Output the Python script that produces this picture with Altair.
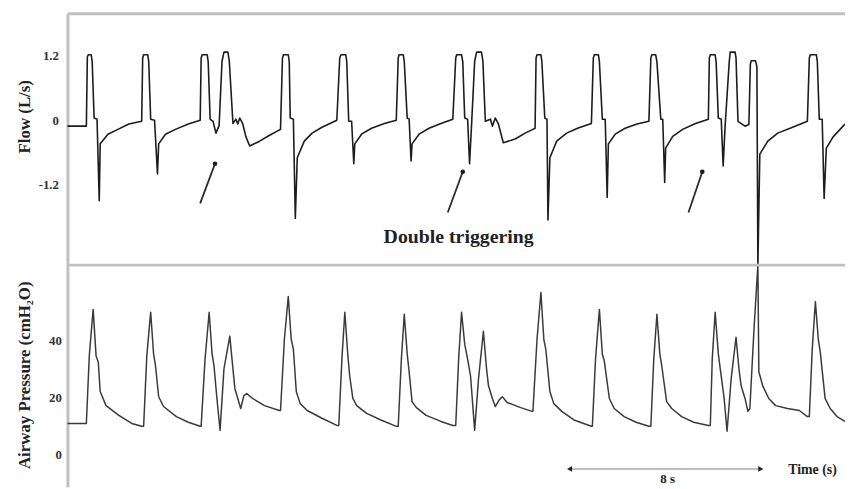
import altair as alt
import pandas as pd

# ---------------- data ----------------
# Flow trace (time in s, flow in L/s)
FLOW_T = [0, 0.78, 0.82, 0.86, 0.98, 1.02, 1.10, 1.22, 1.31, 1.35, 1.67, 2.08, 2.53, 3.06,
          3.10, 3.14, 3.31, 3.35, 3.43, 3.59, 3.71, 3.76, 4.04, 4.45, 4.98, 5.47,
          5.51, 5.55, 5.76, 5.80, 5.88, 6.00, 6.12, 6.25, 6.37, 6.45, 6.61, 6.67, 6.82, 6.94,
          7.02, 7.10, 7.22, 7.35, 7.51, 7.92, 8.33, 8.78,
          8.86, 8.90, 9.10, 9.14, 9.18, 9.31, 9.39, 9.47, 9.76, 10.08, 10.49, 11.10,
          11.22, 11.27, 11.47, 11.51, 11.59, 11.71, 11.80, 11.84, 12.12, 12.53, 13.06, 13.55,
          13.63, 13.67, 13.84, 13.88, 14.00, 14.08, 14.16, 14.20, 14.49, 14.90, 15.39, 15.88,
          16.00, 16.04, 16.24, 16.29, 16.37, 16.49, 16.57, 16.65, 16.78, 16.86, 17.06, 17.12,
          17.22, 17.43, 17.51, 17.63, 17.76, 17.96, 18.45, 18.86, 19.18, 19.27,
          19.31, 19.35, 19.51, 19.55, 19.67, 19.76, 19.80, 19.88, 20.16, 20.57, 21.02, 21.59,
          21.67, 21.71, 21.88, 21.92, 22.04, 22.16, 22.24, 22.29, 22.57, 22.98, 23.47, 23.96,
          24.04, 24.08, 24.24, 24.29, 24.45, 24.53, 24.61, 24.65, 24.94, 25.35, 25.88, 26.41,
          26.45, 26.49, 26.69, 26.73, 26.82, 26.94, 27.02, 27.10, 27.27, 27.31, 27.51, 27.55,
          27.63, 27.92, 28.08, 28.14, 28.18, 28.35, 28.41, 28.45, 28.53, 28.86, 29.27, 29.88, 30.49,
          30.57, 30.61, 30.86, 30.90, 30.98, 31.10, 31.18, 31.27, 31.55, 32.04]
FLOW_V = [-0.11, -0.11, 1.18, 1.22, 1.22, 1.09, 0.04, 0.02, -1.50, -0.44, -0.26, -0.17, -0.07, -0.02,
          1.16, 1.22, 1.22, 1.09, 0.02, 0.0, -1.00, -0.44, -0.26, -0.17, -0.07, 0.0,
          1.16, 1.22, 1.22, 1.09, 0.02, -0.02, -0.24, -0.10, 1.10, 1.27, 1.27, 1.10, -0.06, 0.02,
          -0.07, 0.04, -0.06, -0.30, -0.48, -0.39, -0.28, -0.17,
          1.16, 1.22, 1.22, 1.09, 0.04, 0.02, -1.83, -0.70, -0.39, -0.24, -0.13, 0.0,
          1.16, 1.22, 1.22, 1.09, -0.02, -0.02, -0.81, -0.44, -0.26, -0.15, -0.06, 0.0,
          1.16, 1.22, 1.22, 1.09, 0.04, 0.02, -0.76, -0.44, -0.26, -0.15, -0.06, 0.02,
          1.16, 1.22, 1.22, 1.09, 0.04, 0.02, -0.81, -0.11, 1.10, 1.27, 1.27, 1.10,
          -0.02, 0.02, -0.11, 0.04, -0.07, -0.42, -0.35, -0.24, -0.17, -0.15,
          1.16, 1.22, 1.22, 1.09, 0.04, 0.02, -1.86, -0.70, -0.39, -0.24, -0.15, -0.06,
          1.16, 1.22, 1.22, 1.09, 0.02, 0.02, -1.44, -0.44, -0.26, -0.15, -0.07, -0.02,
          1.16, 1.22, 1.22, 1.09, 0.02, 0.02, -1.16, -0.52, -0.30, -0.17, -0.06, 0.02,
          1.16, 1.22, 1.22, 1.09, 0.04, 0.02, -0.85, -0.11, 1.09, 1.27, 1.27, 1.16,
          -0.02, -0.11, -0.08, 1.05, 1.11, 1.11, 1.00, -2.70, -0.63, -0.39, -0.24, -0.13, -0.02,
          1.16, 1.22, 1.22, 1.09, 0.02, 0.02, -1.46, -0.52, -0.31, -0.07]

# Airway pressure trace (time in s, pressure in cmH2O)
PRES_T = [0, 0.78, 0.90, 1.06, 1.18, 1.27, 1.35, 1.59, 2.12, 2.65, 3.06,
          3.14, 3.27, 3.43, 3.55, 3.63, 3.76, 3.96, 4.49, 4.98, 5.47,
          5.51, 5.67, 5.84, 5.96, 6.04, 6.16, 6.29, 6.45, 6.69, 6.82, 6.90, 7.02, 7.14, 7.27,
          7.39, 7.63, 8.12, 8.73,
          8.78, 8.94, 9.10, 9.22, 9.31, 9.43, 9.59, 9.88, 10.49, 11.10,
          11.18, 11.31, 11.43, 11.55, 11.63, 11.76, 11.92, 12.33, 12.94, 13.55,
          13.63, 13.76, 13.88, 14.00, 14.08, 14.20, 14.37, 14.78, 15.39, 15.88,
          16.00, 16.12, 16.24, 16.37, 16.49, 16.61, 16.78, 16.94, 17.14, 17.27, 17.35, 17.51,
          17.63, 17.80, 17.92, 18.12, 18.65, 19.14,
          19.18, 19.35, 19.51, 19.63, 19.71, 19.88, 20.04, 20.37, 20.90, 21.59,
          21.63, 21.76, 21.92, 22.04, 22.12, 22.33, 22.53, 22.94, 23.43, 23.96,
          24.04, 24.16, 24.29, 24.41, 24.49, 24.69, 24.90, 25.31, 25.80, 26.41,
          26.49, 26.57, 26.69, 26.82, 26.90, 27.06, 27.18, 27.35, 27.55, 27.67, 27.76, 27.92,
          28.04, 28.12, 28.29, 28.45, 28.49, 28.65, 28.90, 29.18, 29.67, 30.16, 30.49,
          30.57, 30.69, 30.82, 30.94, 31.02, 31.22, 31.43, 31.71, 32.04]
PRES_V = [11.0, 11.0, 34.5, 50.7, 34.5, 32.4, 22.1, 17.2, 13.8, 11.0, 10.0,
          10.0, 34.5, 49.7, 35.2, 31.0, 20.3, 16.9, 13.4, 11.4, 10.0,
          10.0, 33.4, 49.7, 35.2, 31.0, 19.7, 8.6, 30.0, 41.4, 30.0, 23.1, 19.7, 16.2, 20.7,
          21.4, 19.7, 17.2, 15.5,
          15.5, 40.3, 55.2, 40.3, 36.9, 22.1, 17.9, 15.5, 12.8, 10.3,
          10.3, 33.4, 49.7, 35.2, 27.6, 19.7, 17.2, 14.5, 12.1, 10.0,
          10.0, 33.4, 49.0, 35.2, 29.0, 18.6, 16.6, 13.8, 11.7, 10.3,
          10.3, 33.4, 49.7, 38.6, 33.4, 27.6, 8.6, 26.6, 43.1, 30.0, 24.1, 19.7,
          16.9, 19.3, 20.3, 18.3, 16.6, 15.2,
          15.2, 40.3, 56.6, 40.3, 36.9, 22.1, 17.9, 15.2, 12.1, 10.0,
          10.0, 33.4, 50.7, 35.2, 32.8, 19.7, 16.2, 13.4, 11.4, 10.0,
          10.0, 33.4, 49.0, 35.2, 31.0, 18.6, 16.2, 13.4, 11.4, 10.3,
          10.3, 33.4, 49.7, 35.2, 30.0, 19.7, 8.3, 26.6, 41.0, 30.0, 24.1, 19.7,
          15.2, 16.2, 43.8, 66.2, 29.0, 24.1, 19.7, 17.2, 16.2, 15.5, 13.4,
          13.4, 36.9, 53.4, 40.3, 35.9, 19.7, 16.2, 13.4, 11.7]

FLOW_TICKS = [-1.2, 0, 1.2]
PRES_TICKS = [0, 20, 40]

# "Double triggering" pointer arrows (flow panel coordinates)
ARROW_TAIL_T = [5.47, 15.67, 25.59]
ARROW_TAIL_V = [-1.55, -1.72, -1.72]
ARROW_HEAD_T = [6.08, 16.29, 26.16]
ARROW_HEAD_V = [-0.81, -0.96, -0.96]
NOTE_TEXT = ["Double triggering"]
NOTE_T = [16.12]
NOTE_V = [-2.18]

DIVIDER_V = [-2.70]          # flow value at the border between the two panels

# time scale bar (pressure panel coordinates)
SCALEBAR_T = [20.69, 28.57]
SCALEBAR_P = [-4.83]
SCALEBAR_LABEL = ["8 s"]
SCALEBAR_LABEL_T = [24.73]
SCALEBAR_LABEL_P = [-6.3]
TIME_LABEL = ["Time (s)"]
TIME_LABEL_T = [29.7]
TIME_LABEL_P = [-5.17]

X_DOMAIN = [0, 32.04]
FLOW_DOMAIN = [-6.83, 1.994]
PRES_DOMAIN = [-11.03, 153.8]

# ---------------- chart ----------------
SERIF = "Liberation Serif"
FRAME = "#c0c0c0"

flow_df = pd.DataFrame({"t": FLOW_T, "v": FLOW_V, "i": range(len(FLOW_T))})
pres_df = pd.DataFrame({"t": PRES_T, "p": PRES_V, "i": range(len(PRES_T))})
arrow_df = pd.DataFrame({"t0": ARROW_TAIL_T, "v0": ARROW_TAIL_V,
                         "t1": ARROW_HEAD_T, "v1": ARROW_HEAD_V})
note_df = pd.DataFrame({"t": NOTE_T, "v": NOTE_V, "label": NOTE_TEXT})
div_df = pd.DataFrame({"v": DIVIDER_V})
bar_df = pd.DataFrame({"t0": [SCALEBAR_T[0]], "t1": [SCALEBAR_T[1]], "p": SCALEBAR_P})
head_l = pd.DataFrame({"t": [SCALEBAR_T[0]], "p": SCALEBAR_P})
head_r = pd.DataFrame({"t": [SCALEBAR_T[1]], "p": SCALEBAR_P})
sl_df = pd.DataFrame({"t": SCALEBAR_LABEL_T, "p": SCALEBAR_LABEL_P, "label": SCALEBAR_LABEL})
tl_df = pd.DataFrame({"t": TIME_LABEL_T, "p": TIME_LABEL_P, "label": TIME_LABEL})

xs = alt.Scale(domain=X_DOMAIN, nice=False, zero=False)
fs = alt.Scale(domain=FLOW_DOMAIN, nice=False, zero=False)
ps = alt.Scale(domain=PRES_DOMAIN, nice=False, zero=False)

x_axis = alt.Axis(orient="top", labels=False, ticks=False, title=None, grid=False,
                  domainColor=FRAME, domainWidth=3)
flow_axis = alt.Axis(orient="left", values=FLOW_TICKS, ticks=False, grid=False,
                     labelExpr="datum.value == 0 ? '0' : (datum.value < 0 ? '-' + format(-datum.value, '.1f') : format(datum.value, '.1f'))",
                     labelPadding=9, labelFont=SERIF, labelFontWeight="bold",
                     labelFontSize=13, labelColor="#333333",
                     domainColor=FRAME, domainWidth=3,
                     title="Flow (L/s)", titleFont=SERIF, titleFontWeight="bold",
                     titleFontSize=17, titleColor="#222222", titleAngle=270,
                     titleBaseline="middle", titleAlign="center",
                     titleX=-43, titleY=104)
pres_axis = alt.Axis(orient="left", values=PRES_TICKS, ticks=False, grid=False,
                     labelPadding=6, labelFont=SERIF, labelFontWeight="bold",
                     labelFontSize=13, labelColor="#333333", domain=False,
                     title="Airway Pressure (cmH\u2082O)", titleFont=SERIF,
                     titleFontWeight="bold", titleFontSize=17, titleColor="#222222",
                     titleAngle=270, titleBaseline="middle", titleAlign="center",
                     titleX=-43, titleY=365)

flow_line = alt.Chart(flow_df).mark_line(color="#1c1c1c", strokeWidth=1.6,
                                         strokeJoin="round").encode(
    x=alt.X("t:Q", scale=xs, axis=x_axis),
    y=alt.Y("v:Q", scale=fs, axis=flow_axis),
    order="i:Q",
)
pres_line = alt.Chart(pres_df).mark_line(color="#3a3a3a", strokeWidth=1.5,
                                         strokeJoin="round").encode(
    x=alt.X("t:Q", scale=xs),
    y=alt.Y("p:Q", scale=ps, axis=pres_axis),
    order="i:Q",
)
divider = alt.Chart(div_df).mark_rule(color=FRAME, strokeWidth=3).encode(
    y=alt.Y("v:Q", scale=fs, axis=None),
)
arrows = alt.Chart(arrow_df).mark_rule(color="#2a2a2a", strokeWidth=1.8).encode(
    x=alt.X("t0:Q", scale=xs), x2="t1:Q",
    y=alt.Y("v0:Q", scale=fs, axis=None), y2="v1:Q",
)
arrow_dots = alt.Chart(arrow_df).mark_circle(color="#1c1c1c", size=22, opacity=1).encode(
    x=alt.X("t1:Q", scale=xs),
    y=alt.Y("v1:Q", scale=fs, axis=None),
)
note = alt.Chart(note_df).mark_text(font=SERIF, fontWeight="bold", fontSize=20,
                                    color="#222222").encode(
    x=alt.X("t:Q", scale=xs),
    y=alt.Y("v:Q", scale=fs, axis=None),
    text="label:N",
)
bar = alt.Chart(bar_df).mark_rule(color="#aaaaaa", strokeWidth=1.5).encode(
    x=alt.X("t0:Q", scale=xs), x2="t1:Q",
    y=alt.Y("p:Q", scale=ps, axis=None),
)
hl = alt.Chart(head_l).mark_point(shape="triangle-left", filled=True, size=35,
                                  color="#222222", opacity=1).encode(
    x=alt.X("t:Q", scale=xs), y=alt.Y("p:Q", scale=ps, axis=None))
hr = alt.Chart(head_r).mark_point(shape="triangle-right", filled=True, size=35,
                                  color="#222222", opacity=1).encode(
    x=alt.X("t:Q", scale=xs), y=alt.Y("p:Q", scale=ps, axis=None))
sl = alt.Chart(sl_df).mark_text(font=SERIF, fontWeight="bold", fontSize=13,
                                color="#222222", baseline="top").encode(
    x=alt.X("t:Q", scale=xs), y=alt.Y("p:Q", scale=ps, axis=None),
    text="label:N")
tl = alt.Chart(tl_df).mark_text(font=SERIF, fontWeight="bold", fontSize=14,
                                color="#222222", align="left", baseline="middle").encode(
    x=alt.X("t:Q", scale=xs), y=alt.Y("p:Q", scale=ps, axis=None),
    text="label:N")

chart = alt.layer(flow_line, pres_line, divider, arrows, arrow_dots, note,
                  bar, hl, hr, sl, tl).resolve_scale(y="independent").properties(
    width=785, height=478,
    padding={"left": 60, "top": 3, "right": 0, "bottom": 0},
    autosize=alt.AutoSizeParams(type="none"),
    background="white",
).configure_view(stroke=None)

chart.save("out.html", embed_options={"renderer": "svg", "actions": False})
